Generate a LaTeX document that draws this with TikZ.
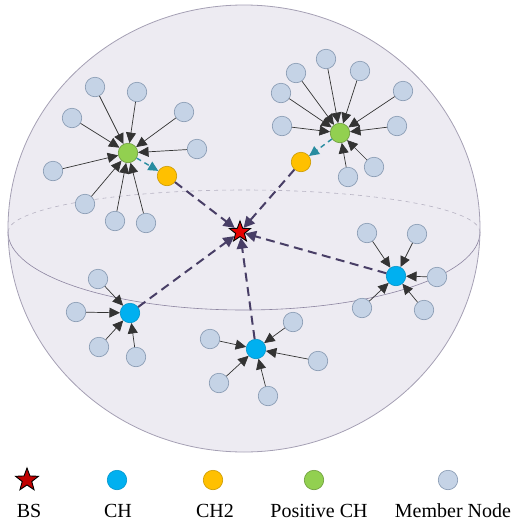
\documentclass[tikz,border=0pt]{standalone}
\usepackage{fontspec}
\setmainfont{Liberation Serif}
\usetikzlibrary{shapes.geometric,arrows.meta}

\definecolor{sphfill}{RGB}{237,235,242}
\definecolor{sphline}{RGB}{165,160,180}
\definecolor{eqline}{RGB}{140,132,160}
\definecolor{memfill}{RGB}{197,211,230}
\definecolor{memline}{RGB}{132,151,176}
\definecolor{chblue}{RGB}{0,176,240}
\definecolor{chorange}{RGB}{255,192,0}
\definecolor{chgreen}{RGB}{146,208,80}
\definecolor{bsred}{RGB}{230,0,0}
\definecolor{legred}{RGB}{192,0,0}
\definecolor{linkpurple}{RGB}{72,62,102}
\definecolor{linkteal}{RGB}{40,140,160}

\begin{document}
\begin{tikzpicture}[x=1pt,y=-1pt,
	member/.style={circle,inner sep=0pt,minimum size=19.5pt,fill=memfill,draw=memline,line width=0.6pt},
	ch/.style={member,fill=chblue,draw=chblue!85!black},
	chtwo/.style={member,fill=chorange,draw=chorange!80!black},
	pch/.style={member,fill=chgreen,draw=chgreen!75!black},
	bs/.style={star,star points=5,star point ratio=2.4,inner sep=0pt,minimum size=22pt,fill=bsred,draw=black,line width=0.9pt},
	feed/.style={draw=black!80,line width=0.7pt,-{Triangle[length=10.5pt,width=10pt]}},
	uplink/.style={draw=linkpurple,line width=2pt,dash pattern=on 9pt off 5.5pt,-{Triangle[length=11pt,width=11pt]}},
	relay/.style={draw=linkteal,line width=1.4pt,dash pattern=on 5pt off 4pt,-{Triangle[length=10pt,width=9.5pt]}},
	legendtext/.style={anchor=base,font=\fontsize{20}{24}\selectfont}]
	\useasboundingbox (0,0) rectangle (514,523);
	% sphere
	\fill[sphfill] (244,228.5) ellipse [x radius=236pt,y radius=223.5pt];
	\draw[sphline!80,line width=0.6pt,dash pattern=on 4pt off 4pt] (8,232) arc [start angle=180,end angle=0,x radius=236pt,y radius=42pt];
	\draw[eqline,line width=0.6pt] (8,232) arc [start angle=180,end angle=360,x radius=236pt,y radius=78pt];
	\draw[sphline,line width=0.8pt] (244,228.5) ellipse [x radius=236pt,y radius=223.5pt];

	% heads
	\node[bs] (bs) at (240,232) {};
	\node[pch] (pa) at (128,153) {};
	\node[pch] (pb) at (340,133) {};
	\node[chtwo] (ta) at (167,176) {};
	\node[chtwo] (tb) at (301,162) {};
	\node[ch] (ca) at (130,313) {};
	\node[ch] (cb) at (396,276) {};
	\node[ch] (cc) at (256,349) {};

	% members
	\foreach \x/\y [count=\i] in {95/87,137/92,184/112,72/118,197/149,53/171,85/204,115/221,146/223}
	{
		\node[member] (ma\i) at (\x,\y) {};
		\draw[feed] (ma\i) -- (pa);
	}
	\foreach \x/\y [count=\i] in {326/59,360/71,296/73,281/93,403/91,282/126,397/126,374/167,348/177}
	{
		\node[member] (mb\i) at (\x,\y) {};
		\draw[feed] (mb\i) -- (pb);
	}
	\foreach \x/\y [count=\i] in {98/279,76/312,99/347,136/357}
	{
		\node[member] (mc\i) at (\x,\y) {};
		\draw[feed] (mc\i) -- (ca);
	}
	\foreach \x/\y [count=\i] in {367/233,417/234,437/277,362/308,424/310}
	{
		\node[member] (md\i) at (\x,\y) {};
		\draw[feed] (md\i) -- (cb);
	}
	\foreach \x/\y [count=\i] in {293/322,210/339,318/361,219/383,268/396}
	{
		\node[member] (me\i) at (\x,\y) {};
		\draw[feed] (me\i) -- (cc);
	}

	% links to BS
	\draw[relay] (pa) -- (ta);
	\draw[relay] (pb) -- (tb);
	\foreach \h in {ta,tb,ca,cb,cc}
		\draw[uplink] (\h) -- (bs);

	% legend
	\node[bs,fill=legred,minimum size=24pt] (kbs) at (27,480) {};
	\node[ch] (kch) at (117,480) {};
	\node[chtwo] (ktwo) at (213,480) {};
	\node[pch] (kpch) at (314,480) {};
	\node[member] (kmem) at (448,480) {};
	\node[legendtext] (tbs) at (29,517) {BS};
	\node[legendtext] (tch) at (118,517) {CH};
	\node[legendtext] (ttwo) at (215,517) {CH2};
	\node[legendtext] (tpch) at (319,517) {Positive CH};
	\node[legendtext] (tmem) at (453,517) {Member Node};
\end{tikzpicture}
\end{document}
